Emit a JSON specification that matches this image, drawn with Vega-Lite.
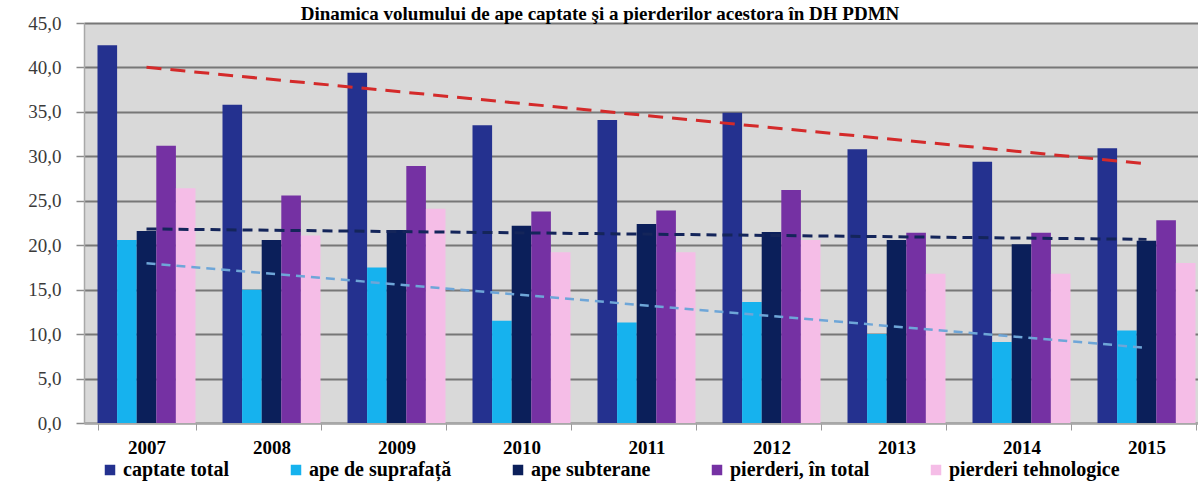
{
  "$schema": "https://vega.github.io/schema/vega-lite/v6.json",
  "autosize": "none",
  "width": 1114,
  "height": 400,
  "padding": {"left": 84, "top": 23, "right": 0, "bottom": 77},
  "background": "#ffffff",
  "title": {
    "text": "Dinamica volumului de ape captate şi a pierderilor acestora în DH PDMN",
    "font": "Liberation Serif",
    "fontSize": 19,
    "fontWeight": "bold",
    "color": "#000000",
    "anchor": "middle",
    "frame": "group",
    "baseline": "alphabetic",
    "offset": 11,
    "dx": -41,
    "dy": 36
  },
  "data": {
    "values": [
      {"year": 2007, "series": "captate total", "value": 42.5},
      {"year": 2007, "series": "ape de suprafață", "value": 20.6},
      {"year": 2007, "series": "ape subterane", "value": 21.6},
      {"year": 2007, "series": "pierderi, în total", "value": 31.2},
      {"year": 2007, "series": "pierderi tehnologice", "value": 26.4},
      {"year": 2008, "series": "captate total", "value": 35.8},
      {"year": 2008, "series": "ape de suprafață", "value": 15.0},
      {"year": 2008, "series": "ape subterane", "value": 20.6},
      {"year": 2008, "series": "pierderi, în total", "value": 25.6},
      {"year": 2008, "series": "pierderi tehnologice", "value": 21.1},
      {"year": 2009, "series": "captate total", "value": 39.4},
      {"year": 2009, "series": "ape de suprafață", "value": 17.5},
      {"year": 2009, "series": "ape subterane", "value": 21.7},
      {"year": 2009, "series": "pierderi, în total", "value": 28.9},
      {"year": 2009, "series": "pierderi tehnologice", "value": 24.1},
      {"year": 2010, "series": "captate total", "value": 33.5},
      {"year": 2010, "series": "ape de suprafață", "value": 11.5},
      {"year": 2010, "series": "ape subterane", "value": 22.2},
      {"year": 2010, "series": "pierderi, în total", "value": 23.8},
      {"year": 2010, "series": "pierderi tehnologice", "value": 19.2},
      {"year": 2011, "series": "captate total", "value": 34.1},
      {"year": 2011, "series": "ape de suprafață", "value": 11.3},
      {"year": 2011, "series": "ape subterane", "value": 22.4},
      {"year": 2011, "series": "pierderi, în total", "value": 23.9},
      {"year": 2011, "series": "pierderi tehnologice", "value": 19.2},
      {"year": 2012, "series": "captate total", "value": 34.9},
      {"year": 2012, "series": "ape de suprafață", "value": 13.6},
      {"year": 2012, "series": "ape subterane", "value": 21.5},
      {"year": 2012, "series": "pierderi, în total", "value": 26.2},
      {"year": 2012, "series": "pierderi tehnologice", "value": 20.6},
      {"year": 2013, "series": "captate total", "value": 30.8},
      {"year": 2013, "series": "ape de suprafață", "value": 10.0},
      {"year": 2013, "series": "ape subterane", "value": 20.6},
      {"year": 2013, "series": "pierderi, în total", "value": 21.4},
      {"year": 2013, "series": "pierderi tehnologice", "value": 16.8},
      {"year": 2014, "series": "captate total", "value": 29.4},
      {"year": 2014, "series": "ape de suprafață", "value": 9.1},
      {"year": 2014, "series": "ape subterane", "value": 20.1},
      {"year": 2014, "series": "pierderi, în total", "value": 21.4},
      {"year": 2014, "series": "pierderi tehnologice", "value": 16.8},
      {"year": 2015, "series": "captate total", "value": 30.9},
      {"year": 2015, "series": "ape de suprafață", "value": 10.4},
      {"year": 2015, "series": "ape subterane", "value": 20.5},
      {"year": 2015, "series": "pierderi, în total", "value": 22.8},
      {"year": 2015, "series": "pierderi tehnologice", "value": 18.0}
    ]
  },
  "encoding": {
    "x": {
      "field": "year",
      "type": "ordinal",
      "title": null,
      "scale": {"range": [0, 1125], "paddingInner": 0.216, "paddingOuter": 0.108},
      "axis": {
        "labelAngle": 0,
        "labelFont": "Liberation Serif",
        "labelFontSize": 19,
        "labelFontWeight": "bold",
        "labelColor": "#000000",
        "labelPadding": 8,
        "tickBand": "extent",
        "tickSize": 7,
        "tickColor": "#9a9a9a",
        "domainColor": "#a8a8a8",
        "domainWidth": 1.5,
        "grid": false
      }
    },
    "y": {
      "field": "value",
      "type": "quantitative",
      "title": null,
      "scale": {"domain": [0, 45], "nice": false},
      "axis": {
        "values": [0, 5, 10, 15, 20, 25, 30, 35, 40, 45],
        "labelExpr": "replace(format(datum.value, '.1f'), '.', ',')",
        "labelFont": "Liberation Serif",
        "labelFontSize": 19,
        "labelColor": "#3a3a3a",
        "labelPadding": 15,
        "tickSize": 8,
        "tickColor": "#8a8a8a",
        "tickWidth": 1.5,
        "domainColor": "#a8a8a8",
        "domainWidth": 1.5,
        "grid": true,
        "gridColor": "#777777",
        "gridWidth": 1.8
      }
    }
  },
  "layer": [
    {
      "mark": {"type": "bar", "clip": true},
      "encoding": {
        "xOffset": {
          "field": "series",
          "type": "nominal",
          "sort": ["captate total", "ape de suprafață", "ape subterane", "pierderi, în total", "pierderi tehnologice"],
          "scale": {"paddingInner": 0, "paddingOuter": 0}
        },
        "color": {
          "field": "series",
          "type": "nominal",
          "scale": {
            "domain": ["captate total", "ape de suprafață", "ape subterane", "pierderi, în total", "pierderi tehnologice"],
            "range": ["#24318f", "#16b2ee", "#0b1f5a", "#7531a3", "#f5bde7"]
          },
          "legend": {
            "title": null,
            "orient": "none",
            "legendX": 16,
            "legendY": 437,
            "direction": "horizontal",
            "symbolType": "square",
            "symbolSize": 110,
            "symbolStrokeWidth": 0,
            "labelFont": "Liberation Serif",
            "labelFontSize": 20,
            "labelFontWeight": "bold",
            "labelColor": "#000000",
            "labelOffset": 3,
            "columnPadding": 56,
            "labelLimit": 400
          }
        }
      }
    },
    {
      "transform": [
        {"filter": "datum.series === 'captate total'"},
        {"regression": "value", "on": "year"}
      ],
      "mark": {"type": "line", "clip": true, "color": "#d42a2a", "strokeWidth": 3, "strokeDash": [15, 9]},
      "encoding": {}
    },
    {
      "transform": [
        {"filter": "datum.series === 'ape subterane'"},
        {"regression": "value", "on": "year"}
      ],
      "mark": {"type": "line", "clip": true, "color": "#14255a", "strokeWidth": 3, "strokeDash": [10, 6]},
      "encoding": {}
    },
    {
      "transform": [
        {"filter": "datum.series === 'ape de suprafață'"},
        {"regression": "value", "on": "year"}
      ],
      "mark": {"type": "line", "clip": true, "color": "#6ea6d8", "strokeWidth": 2.5, "strokeDash": [9, 6]},
      "encoding": {}
    }
  ],
  "config": {
    "font": "Liberation Serif",
    "view": {"fill": "#d9d9d9", "stroke": null},
    "axis": {"labelFont": "Liberation Serif"},
    "legend": {"labelFont": "Liberation Serif"}
  }
}
